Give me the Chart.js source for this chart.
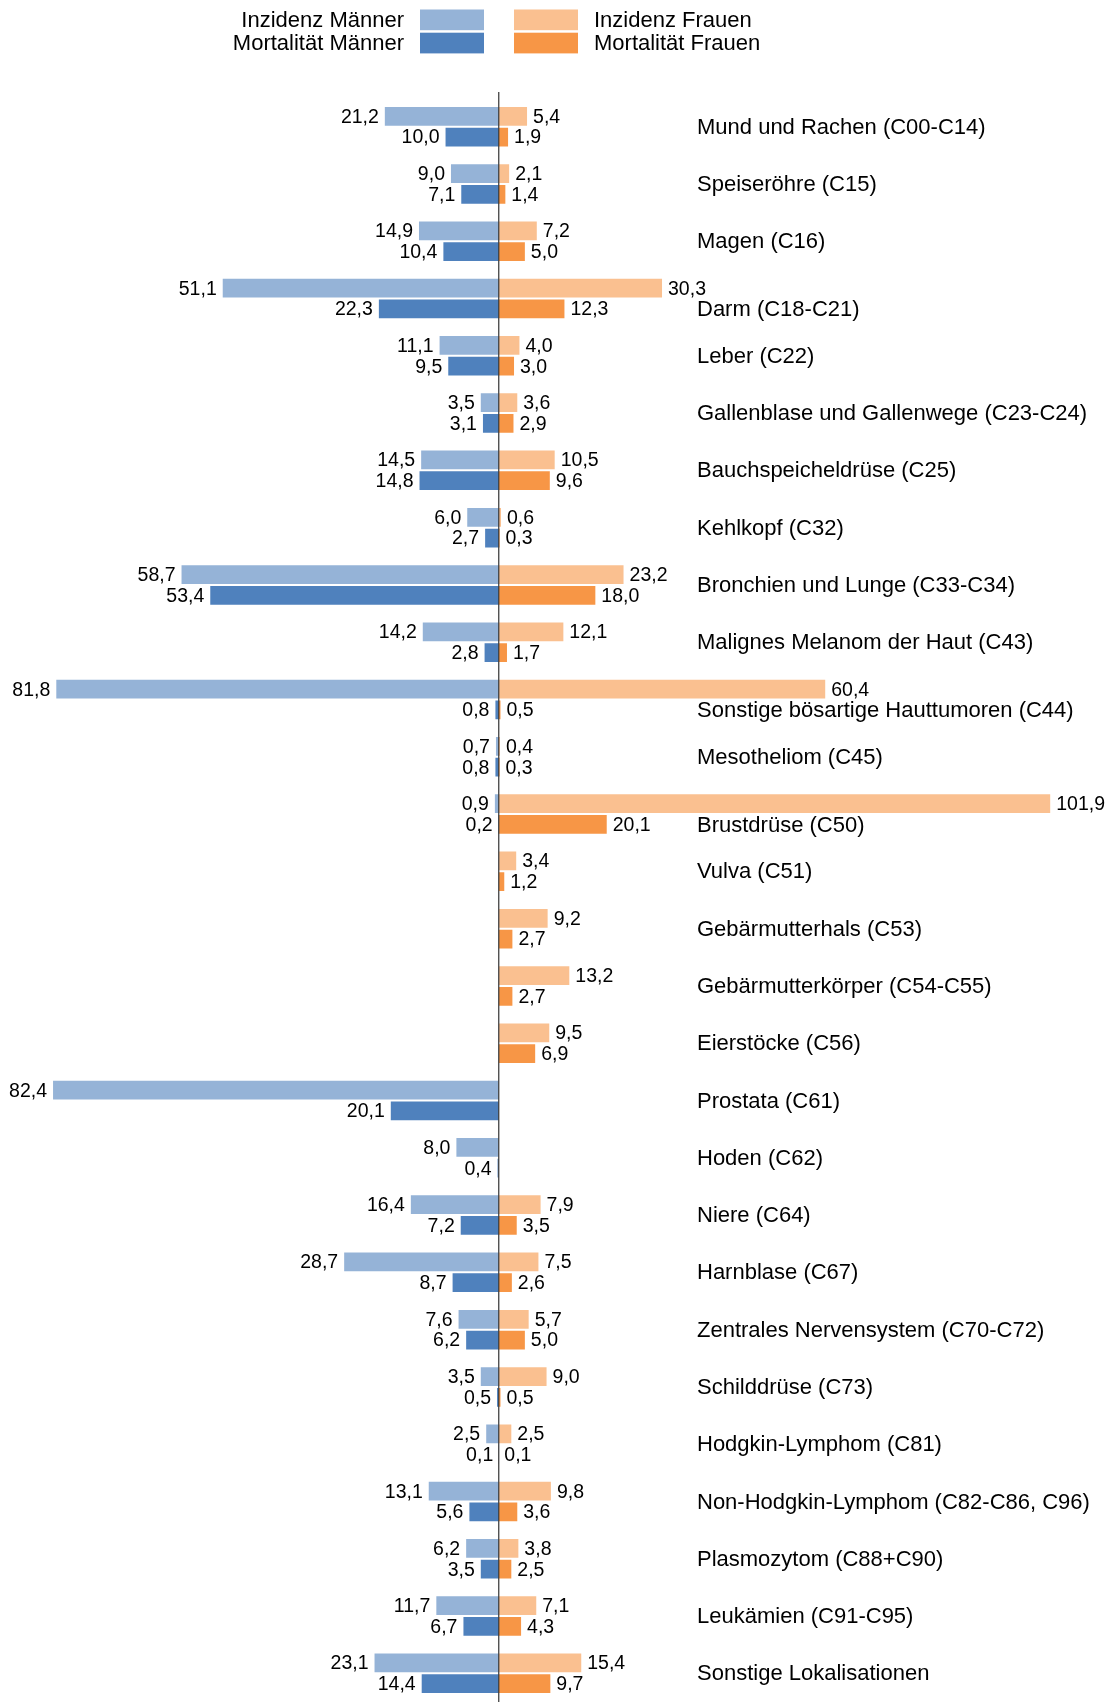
<!DOCTYPE html>
<html>
<head>
<meta charset="utf-8">
<script src="https://cdn.jsdelivr.net/npm/chart.js@4"></script>
<style>
  body { margin: 0; background: #fff; }
  #wrap { width: 1113px; height: 1702px; position: relative; }
</style>
</head>
<body>
<div id="wrap"><canvas id="chart"></canvas></div>
<script>
// Lokalisationen (ICD-10)
const kategorien = [
  'Mund und Rachen (C00-C14)', 'Speiseröhre (C15)', 'Magen (C16)', 'Darm (C18-C21)',
  'Leber (C22)', 'Gallenblase und Gallenwege (C23-C24)', 'Bauchspeicheldrüse (C25)',
  'Kehlkopf (C32)', 'Bronchien und Lunge (C33-C34)', 'Malignes Melanom der Haut (C43)',
  'Sonstige bösartige Hauttumoren (C44)', 'Mesotheliom (C45)', 'Brustdrüse (C50)',
  'Vulva (C51)', 'Gebärmutterhals (C53)', 'Gebärmutterkörper (C54-C55)', 'Eierstöcke (C56)',
  'Prostata (C61)', 'Hoden (C62)', 'Niere (C64)', 'Harnblase (C67)',
  'Zentrales Nervensystem (C70-C72)', 'Schilddrüse (C73)', 'Hodgkin-Lymphom (C81)',
  'Non-Hodgkin-Lymphom (C82-C86, C96)', 'Plasmozytom (C88+C90)', 'Leukämien (C91-C95)',
  'Sonstige Lokalisationen'
];

const inzidenzMaenner = [21.2, 9.0, 14.9, 51.1, 11.1, 3.5, 14.5, 6.0, 58.7, 14.2, 81.8, 0.7, 0.9,
  null, null, null, null, 82.4, 8.0, 16.4, 28.7, 7.6, 3.5, 2.5, 13.1, 6.2, 11.7, 23.1];
const mortalitaetMaenner = [10.0, 7.1, 10.4, 22.3, 9.5, 3.1, 14.8, 2.7, 53.4, 2.8, 0.8, 0.8, 0.2,
  null, null, null, null, 20.1, 0.4, 7.2, 8.7, 6.2, 0.5, 0.1, 5.6, 3.5, 6.7, 14.4];
const inzidenzFrauen = [5.4, 2.1, 7.2, 30.3, 4.0, 3.6, 10.5, 0.6, 23.2, 12.1, 60.4, 0.4, 101.9,
  3.4, 9.2, 13.2, 9.5, null, null, 7.9, 7.5, 5.7, 9.0, 2.5, 9.8, 3.8, 7.1, 15.4];
const mortalitaetFrauen = [1.9, 1.4, 5.0, 12.3, 3.0, 2.9, 9.6, 0.3, 18.0, 1.7, 0.5, 0.3, 20.1,
  1.2, 2.7, 2.7, 6.9, null, null, 3.5, 2.6, 5.0, 0.5, 0.1, 3.6, 2.5, 4.3, 9.7];

const FONT = '"Liberation Sans", Arial, Helvetica, sans-serif';
const farben = {
  inzM: '#95b3d7', morM: '#4f81bd', inzF: '#fac090', morF: '#f79646'
};

function fmt(v) {
  return v.toFixed(1).replace('.', ',');
}

// Männer nach links (negativ)
const neg = arr => arr.map(v => v === null ? null : -v);

const labelPlugin = {
  id: 'beschriftung',
  afterDatasetsDraw(chart) {
    const ctx = chart.ctx;
    const x0 = chart.scales.x.getPixelForValue(0);
    const labelX = 697;

    ctx.save();
    // Mittelachse
    ctx.strokeStyle = '#333';
    ctx.lineWidth = 1.2;
    ctx.beginPath();
    ctx.moveTo(x0, 92);
    ctx.lineTo(x0, chart.height);
    ctx.stroke();

    // Werte an den Balken
    ctx.font = '19.5px ' + FONT;
    ctx.fillStyle = '#000';
    ctx.textBaseline = 'middle';
    const quellen = [inzidenzMaenner, mortalitaetMaenner, inzidenzFrauen, mortalitaetFrauen];
    chart.data.datasets.forEach((ds, di) => {
      const meta = chart.getDatasetMeta(di);
      meta.data.forEach((bar, i) => {
        const v = quellen[di][i];
        if (v === null) return;
        if (di < 2) {
          ctx.textAlign = 'right';
          ctx.fillText(fmt(v), bar.x - 5, bar.y + 1);
        } else {
          ctx.textAlign = 'left';
          ctx.fillText(fmt(v), bar.x + 5, bar.y + 1);
        }
      });
    });

    // Kategorienamen rechts
    ctx.font = '22px ' + FONT;
    ctx.textAlign = 'left';
    const metaInz = chart.getDatasetMeta(2);
    const metaMor = chart.getDatasetMeta(3);
    ctx.save();
    ctx.font = '19.5px ' + FONT;
    const endeInz = metaInz.data.map((bar, i) =>
      inzidenzFrauen[i] === null ? 0 : bar.x + 5 + ctx.measureText(fmt(inzidenzFrauen[i])).width);
    ctx.restore();
    kategorien.forEach((k, i) => {
      let y = chart.scales.y.getPixelForValue(i);
      if (endeInz[i] > labelX - 2) y = metaMor.data[i].y;
      ctx.fillText(k, labelX, y + 1);
    });

    // Legende
    ctx.font = '22px ' + FONT;
    const eintraege = [
      { t: 'Inzidenz Männer', c: farben.inzM, y: 9.5, links: true },
      { t: 'Mortalität Männer', c: farben.morM, y: 32.7, links: true },
      { t: 'Inzidenz Frauen', c: farben.inzF, y: 9.5, links: false },
      { t: 'Mortalität Frauen', c: farben.morF, y: 32.7, links: false }
    ];
    eintraege.forEach(e => {
      const bx = e.links ? 420 : 514;
      ctx.fillStyle = e.c;
      ctx.fillRect(bx, e.y, 64, 20.7);
      ctx.fillStyle = '#000';
      if (e.links) {
        ctx.textAlign = 'right';
        ctx.fillText(e.t, 404, e.y + 11.5);
      } else {
        ctx.textAlign = 'left';
        ctx.fillText(e.t, 594, e.y + 11.5);
      }
    });
    ctx.restore();
  }
};

const gemeinsam = {
  borderWidth: 1,
  borderColor: 'rgba(255,255,255,0.55)',
  borderSkipped: 'start',
  barPercentage: 1.0,
  categoryPercentage: 0.724
};

new Chart(document.getElementById('chart'), {
  type: 'bar',
  data: {
    labels: kategorien,
    datasets: [
      { label: 'Inzidenz Männer', data: neg(inzidenzMaenner), backgroundColor: farben.inzM, stack: 'inz', ...gemeinsam },
      { label: 'Mortalität Männer', data: neg(mortalitaetMaenner), backgroundColor: farben.morM, stack: 'mor', ...gemeinsam },
      { label: 'Inzidenz Frauen', data: inzidenzFrauen, backgroundColor: farben.inzF, stack: 'inz', ...gemeinsam },
      { label: 'Mortalität Frauen', data: mortalitaetFrauen, backgroundColor: farben.morF, stack: 'mor', ...gemeinsam }
    ]
  },
  options: {
    indexAxis: 'y',
    responsive: true,
    maintainAspectRatio: false,
    animation: false,
    layout: { padding: { top: 98, bottom: 0, left: 0, right: 0 } },
    scales: {
      x: { stacked: true, min: -92, max: 113.3, display: false, grid: { display: false } },
      y: { stacked: true, display: false, grid: { display: false } }
    },
    plugins: {
      legend: { display: false },
      tooltip: { enabled: false }
    }
  },
  plugins: [labelPlugin]
});
</script>
</body>
</html>
